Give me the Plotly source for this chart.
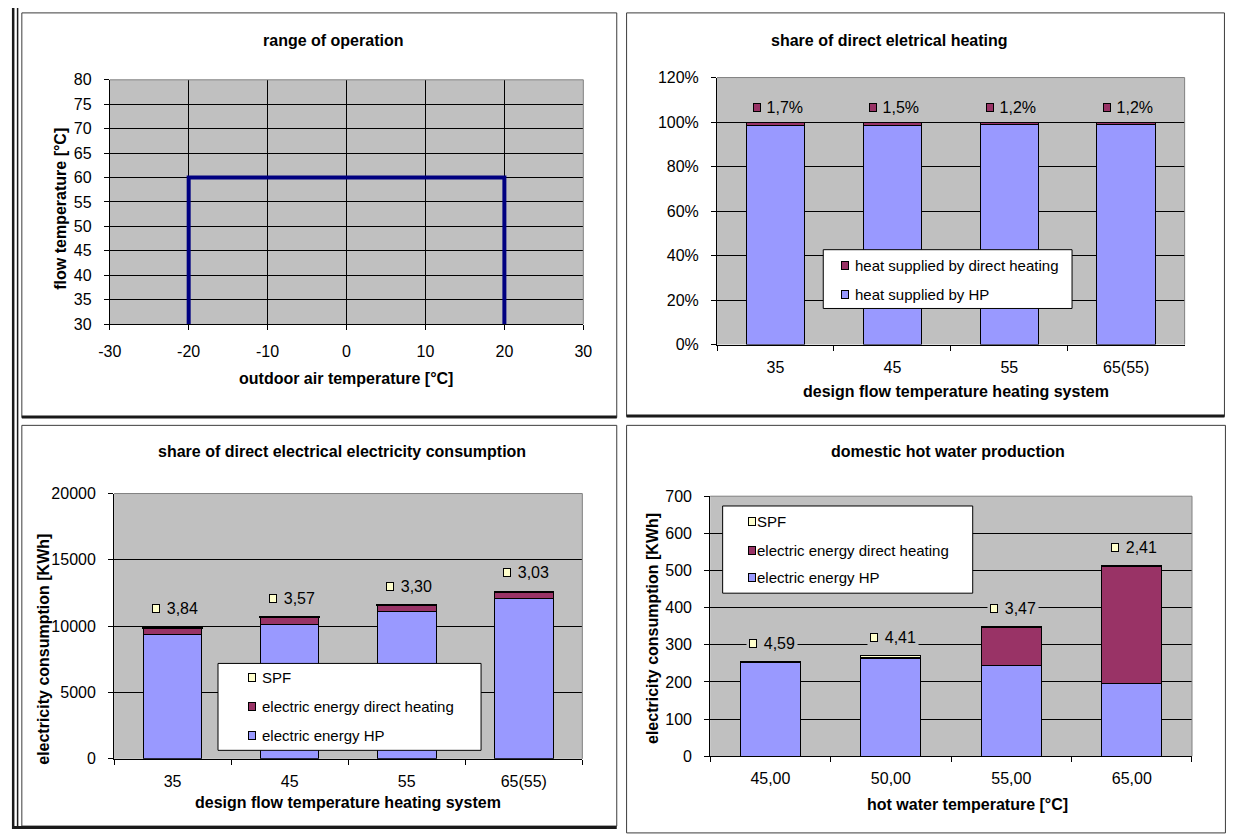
import plotly.graph_objects as go

# ---------------------------------------------------------------- data
# range of operation (outdoor air temperature vs. flow temperature)
envelope_outdoor = [-20, -20, 20, 20]
envelope_flow = [30, 60, 60, 30]
outdoor_ticks = [-30, -20, -10, 0, 10, 20, 30]

# share of direct electrical heating
design_temps = ["35", "45", "55", "65(55)"]
heat_hp_pct = [98.3, 98.5, 98.8, 98.8]
heat_direct_pct = [1.7, 1.5, 1.2, 1.2]

# electricity consumption of the heating system
elec_hp_kwh = [9390, 10125, 11130, 12120]
elec_direct_kwh = [480, 540, 460, 460]
spf_heating = [3.84, 3.57, 3.30, 3.03]

# domestic hot water production
dhw_temps = [45, 50, 55, 65]
dhw_hp_kwh = [251, 263, 245, 195]
dhw_direct_kwh = [0, 3, 102, 315]
spf_dhw = [4.59, 4.41, 3.47, 2.41]

# ---------------------------------------------------------------- style
FONT = "Liberation Sans, Arial, sans-serif"
W, H = 1260, 838
C_HP = "#9999ff"
C_DIRECT = "#993366"
C_SPF = "#ffffcc"
C_PLOT = "#c0c0c0"
C_NAVY = "#000080"
TICK_SIZE = 16
TITLE_SIZE = 16
LABEL_SIZE = 16
LEGEND_SIZE = 15


def px(x):
    return x / W


def py(y):
    return 1 - y / H


def comma(v, nd):
    return f"{v:.{nd}f}".replace(".", ",")


dhw_labels = [comma(t, 2) for t in dhw_temps]

fig = go.Figure()

# ---------------------------------------------------------------- traces
fig.add_trace(go.Scatter(
    x=envelope_outdoor, y=envelope_flow, mode="lines",
    line=dict(color=C_NAVY, width=4), xaxis="x", yaxis="y",
    showlegend=False, hoverinfo="skip"))


def add_stack(x, series, xa, ya):
    for vals, color, lw in series:
        fig.add_trace(go.Bar(
            x=x, y=vals, xaxis=xa, yaxis=ya, showlegend=False,
            marker=dict(color=color, line=dict(color="black", width=lw))))


add_stack(design_temps, [(heat_hp_pct, C_HP, 1), (heat_direct_pct, C_DIRECT, 1)], "x2", "y2")
add_stack(design_temps, [(elec_hp_kwh, C_HP, 1), (elec_direct_kwh, C_DIRECT, 1),
                         (spf_heating, C_SPF, 2)], "x3", "y3")
add_stack(dhw_labels, [(dhw_hp_kwh, C_HP, 1), (dhw_direct_kwh, C_DIRECT, 1),
                       (spf_dhw, C_SPF, 1)], "x4", "y4")

# ---------------------------------------------------------------- axes
tickfont = dict(family=FONT, size=TICK_SIZE, color="black")
common = dict(showline=True, linecolor="black", linewidth=1, ticks="outside",
              ticklen=5, tickcolor="black", tickfont=tickfont, zeroline=False,
              fixedrange=True)
ycommon = dict(common, showgrid=True, gridcolor="black", gridwidth=1,
               ticklabelstandoff=9)
xcat = dict(common, type="category", tickson="boundaries", showgrid=False,
            range=[-0.5, 3.5], ticklabelstandoff=8)

fig.update_layout(
    xaxis=dict(common, domain=[px(99.4), px(581)], range=[-30, 30],
               tickvals=outdoor_ticks, ticktext=[str(t) for t in outdoor_ticks],
               showgrid=True, gridcolor="black", anchor="y", ticklabelstandoff=8),
    yaxis=dict(ycommon, domain=[py(322.7), py(73.3)], range=[30, 80], dtick=5,
               anchor="x"),
    xaxis2=dict(xcat, domain=[px(717), px(1192.5)], anchor="y2"),
    yaxis2=dict(ycommon, domain=[py(343.5), py(71)], range=[0, 120], dtick=20,
                ticksuffix="%", anchor="x2"),
    xaxis3=dict(xcat, domain=[px(103.8), px(580)], anchor="y3"),
    yaxis3=dict(ycommon, domain=[py(766.4), py(495.6)], range=[0, 20000],
                dtick=5000, tickformat="d", anchor="x3"),
    xaxis4=dict(xcat, domain=[px(710), px(1200)], anchor="y4"),
    yaxis4=dict(ycommon, domain=[py(763.7), py(498.3)], range=[0, 700],
                dtick=100, anchor="x4"),
)

shapes = []
annotations = []

# chart frames
for x0, y0, x1, y1 in [(10, 5, 615, 418), (625, 5, 1233, 417),
                       (10, 426, 615, 835), (625, 426, 1234, 842)]:
    shapes.append(dict(type="rect", xref="paper", yref="paper",
                       x0=px(x0), x1=px(x1), y0=py(y1), y1=py(y0),
                       line=dict(color="#3c3c3c", width=1), layer="below"))

# heavy cell borders
for x0, x1, y, w in [(10, 615, 417.5, 3), (625, 1233, 416.5, 3),
                     (0, 615, 836.5, 3)]:
    shapes.append(dict(type="line", xref="paper", yref="paper",
                       x0=px(x0), x1=px(x1), y0=py(y), y1=py(y),
                       line=dict(color="#1a1a1a", width=w), layer="above"))
for x, w in [(1.2, 2.5), (5.7, 1.5)]:
    shapes.append(dict(type="line", xref="paper", yref="paper",
                       x0=px(x), x1=px(x), y0=0, y1=1,
                       line=dict(color="#1a1a1a", width=w), layer="above"))

# grey top/right plot-area edges
for n in ["", "2", "3", "4"]:
    shapes.append(dict(type="line", xref=f"x{n} domain", yref=f"y{n} domain",
                       x0=0, x1=1, y0=1, y1=1,
                       line=dict(color="#808080", width=1), layer="above"))
    shapes.append(dict(type="line", xref=f"x{n} domain", yref=f"y{n} domain",
                       x0=1, x1=1, y0=0, y1=1,
                       line=dict(color="#808080", width=1), layer="above"))


def text_ann(text, x, y, size=TITLE_SIZE, bold=False, angle=0, xanchor="center"):
    annotations.append(dict(
        text=text, x=px(x), y=py(y), xref="paper", yref="paper",
        xanchor=xanchor, yanchor="middle", showarrow=False, textangle=angle,
        font=dict(family=FONT, size=size, color="black",
                  weight="bold" if bold else "normal")))


def square(x, y, color, xref="paper", yref="paper", xshift=0, yshift=0):
    annotations.append(dict(
        text=" ", x=x, y=y, xref=xref, yref=yref, xanchor="center",
        yanchor="middle", showarrow=False, width=6, height=7, borderpad=0,
        bgcolor=color, bordercolor="black", borderwidth=1,
        xshift=xshift, yshift=yshift, font=dict(size=4)))


# titles
text_ann("range of operation", 326, 33.3, bold=True)
text_ann("share of direct eletrical heating", 892, 33.3, bold=True)
text_ann("share of direct electrical electricity consumption", 336, 452.7, bold=True)
text_ann("domestic hot water production", 952, 452.7, bold=True)

# axis titles
text_ann("outdoor air temperature [°C]", 340, 377.7, bold=True)
text_ann("flow temperature [°C]", 49.7, 205, bold=True, angle=-90)
text_ann("design flow temperature heating system", 960, 391.7, bold=True)
text_ann("design flow temperature heating system", 342, 810.7, bold=True)
text_ann("electricity consumption [KWh]", 32.6, 655, bold=True, angle=-90)
text_ann("hot water temperature [°C]", 971.6, 813.3, bold=True)
text_ann("electricity consumption [KWh]", 650.7, 633, bold=True, angle=-90)


# value labels above the stacks
def value_labels(tops, texts, color, xa, ya, box_w, yshift):
    for i, (top, txt) in enumerate(zip(tops, texts)):
        annotations.append(dict(
            text=txt, x=i, y=top, xref=xa, yref=ya, xanchor="center",
            yanchor="middle", showarrow=False, width=box_w, align="right",
            xshift=2, yshift=yshift, bgcolor=C_PLOT, borderpad=2,
            font=dict(family=FONT, size=LABEL_SIZE, color="black")))
        square(i, top, color, xref=xa, yref=ya,
               xshift=2 - box_w / 2 + 4, yshift=yshift)


tops2 = [a + b for a, b in zip(heat_hp_pct, heat_direct_pct)]
value_labels(tops2, [comma(v, 1) + "%" for v in heat_direct_pct], C_DIRECT,
             "x2", "y2", 50, 15)
tops3 = [a + b + c for a, b, c in zip(elec_hp_kwh, elec_direct_kwh, spf_heating)]
value_labels(tops3, [comma(v, 2) for v in spf_heating], C_SPF, "x3", "y3", 46, 19)
tops4 = [a + b + c for a, b, c in zip(dhw_hp_kwh, dhw_direct_kwh, spf_dhw)]
value_labels(tops4, [comma(v, 2) for v in spf_dhw], C_SPF, "x4", "y4", 46, 18)


# legends
def legend_box(x0, y0, x1, y1, items, mx, tx):
    shapes.append(dict(type="rect", xref="paper", yref="paper",
                       x0=px(x0), x1=px(x1), y0=py(y1), y1=py(y0),
                       fillcolor="white", line=dict(color="black", width=1),
                       layer="above"))
    for y, color, label in items:
        square(px(mx), py(y), color)
        text_ann(label, tx, y, size=LEGEND_SIZE, xanchor="left")


legend_box(825, 246.7, 1078, 306.7,
           [(262.7, C_DIRECT, "heat supplied by direct heating"),
            (292.7, C_HP, "heat supplied by HP")], 847.5, 855)
legend_box(209.5, 669, 477, 757.7,
           [(683, C_SPF, "SPF"),
            (712.7, C_DIRECT, "electric energy direct heating"),
            (743, C_HP, "electric energy HP")], 244.4, 252.5)
legend_box(722.7, 508.3, 977, 597.3,
           [(524.3, C_SPF, "SPF"),
            (553.3, C_DIRECT, "electric energy direct heating"),
            (581.7, C_HP, "electric energy HP")], 752.3, 756)

fig.update_layout(
    width=W, height=H, margin=dict(l=0, r=0, t=0, b=0),
    paper_bgcolor="white", plot_bgcolor=C_PLOT,
    barmode="stack", bargap=0.5, showlegend=False,
    font=dict(family=FONT, size=15, color="black"),
    shapes=shapes, annotations=annotations,
)

fig.write_html("out.html", config={"displayModeBar": False},
               post_script="document.body.style.margin='0';")
